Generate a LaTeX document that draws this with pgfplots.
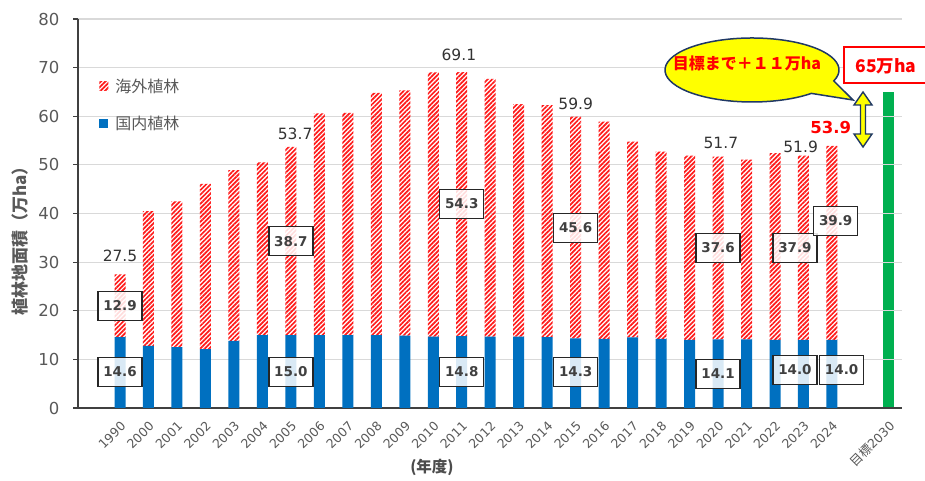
\documentclass[border=0pt]{standalone}
\usepackage{pgfplots}
\usepackage{pgfplotstable}
\pgfplotsset{compat=1.18}
\usetikzlibrary{patterns.meta}
\usepackage{fontspec}
\setmainfont{DejaVu Sans}
\newfontfamily\jp{Noto Sans CJK JP}
\definecolor{dblue}{HTML}{0070C0}
\definecolor{hred}{HTML}{FF1A1A}
\definecolor{tgreen}{HTML}{00B050}
\definecolor{tgray}{HTML}{595959}
\definecolor{navy}{HTML}{1F3864}
\definecolor{cyellow}{HTML}{FFFF00}

\pgfplotstableread{
i dom ovs
0 14.6 12.9
1 12.8 27.7
2 12.5 30.0
3 12.1 34.0
4 13.8 35.1
5 15.0 35.5
6 15.0 38.7
7 15.0 45.6
8 15.0 45.7
9 15.0 49.8
10 14.9 50.4
11 14.7 54.3
12 14.8 54.3
13 14.7 53.0
14 14.7 47.8
15 14.6 47.7
16 14.3 45.6
17 14.2 44.7
18 14.5 40.3
19 14.2 38.5
20 14.0 37.9
21 14.1 37.6
22 14.1 37.0
23 14.0 38.4
24 14.0 37.9
25 14.0 39.9
}\datatable

\tikzset{
  boxlbl/.style={draw=black!85, line width=1.3pt, fill=white, fill opacity=0.85, text opacity=1,
    font=\fontsize{13.5}{14}\selectfont\bfseries, text=black!75,
    minimum width=44pt, minimum height=29pt, inner sep=0pt},
  toplbl/.style={font=\fontsize{15.5}{16}\selectfont, text=black!80, inner sep=0pt},
}
\pgfplotsset{
  frame/.style={at={(78pt,73pt)}, anchor=south west, scale only axis,
    width=824pt, height=389pt, xmin=-1.475, xmax=27.46, ymin=0, ymax=80},
}

\begin{document}
\begin{tikzpicture}
\useasboundingbox (0pt,0pt) rectangle (925pt,481pt);

% target bar
\begin{axis}[frame, hide axis, ybar, bar width=11pt]
\addplot[fill=tgreen, draw=none] coordinates {(27,65)};
\end{axis}

\begin{axis}[frame,
  ybar stacked, bar width=11pt,
  axis x line*=bottom, axis y line*=left,
  axis line style={draw=black!75, line width=1.2pt},
  ymajorgrids, grid style={draw=black!15, line width=1.1pt},
  ytick={0,10,...,80},
  xtick={0,1,...,25,27},
  xticklabels={1990,2000,2001,2002,2003,2004,2005,2006,2007,2008,2009,2010,2011,2012,2013,2014,2015,2016,2017,2018,2019,2020,2021,2022,2023,2024,{{\jp 目標}2030}},
  tick align=outside, major tick length=5pt,
  xtick style={draw=none},
  ytick style={draw=black!75, line width=1.2pt},
  /pgf/number format/assume math mode=true,
  yticklabel style={font=\fontsize{16.5}{18}\selectfont, text=tgray, xshift=-10pt},
  xticklabel style={font=\fontsize{12.5}{13}\selectfont, text=tgray, rotate=45, anchor=east, yshift=-10pt, xshift=-2pt},
  ylabel={\jp\bfseries 植林地面積（万ha）},
  ylabel style={at={(axis description cs:-0.0704,0.44)}, anchor=center, font=\fontsize{17}{18}\selectfont, text=tgray},
  xlabel={\jp\bfseries (年度)},
  xlabel style={at={(axis description cs:0.4296,-0.1517)}, anchor=center, font=\fontsize{15.5}{16}\selectfont, text=black!70},
  reverse legend,
  legend style={at={(0.022,0.857)}, anchor=north west, draw=none, fill=none,
    font=\jp\fontsize{16}{17}\selectfont, text=tgray, row sep=18pt,
    /tikz/every odd column/.append style={column sep=5pt}},
  legend cell align=left,
]
\addplot[fill=dblue, draw=none,
  legend image code/.code={\path[fill=dblue] (0pt,-4.5pt) rectangle (9pt,4.5pt);}]
  table[x=i,y=dom]{\datatable};
\addplot[pattern={Lines[angle=45,distance=3.2pt,line width=1.7pt]}, pattern color=hred, draw=none,
  legend image code/.code={\path[pattern={Lines[angle=45,distance=3.2pt,line width=1.7pt]}, pattern color=hred] (0pt,-4.5pt) rectangle (9pt,4.5pt);}]
  table[x=i,y=ovs]{\datatable};
\legend{国内植林,海外植林}
\end{axis}

% labels overlay
\begin{axis}[frame, hide axis]
% totals
\node[toplbl] at (axis cs:0,31.3) {27.5};
\node[toplbl] at (axis cs:6.15,56.3) {53.7};
\node[toplbl] at (axis cs:11.9,72.6) {69.1};
\node[toplbl] at (axis cs:16,62.5) {59.9};
\node[toplbl] at (axis cs:21.1,54.5) {51.7};
\node[toplbl] at (axis cs:23.9,53.7) {51.9};
\node[toplbl, font=\fontsize{16.5}{17}\selectfont\bfseries, text=red] at (axis cs:24.96,57.6) {53.9};

% overseas boxes
\node[boxlbl] at (axis cs:0,21) {12.9};
\node[boxlbl] at (axis cs:6,34.3) {38.7};
\node[boxlbl] at (axis cs:12,42) {54.3};
\node[boxlbl] at (axis cs:16,37) {45.6};
\node[boxlbl] at (axis cs:21,32.9) {37.6};
\node[boxlbl] at (axis cs:23.7,32.9) {37.9};
\node[boxlbl] at (axis cs:25.13,38.5) {39.9};

% domestic boxes
\node[boxlbl] at (axis cs:0,7.4) {14.6};
\node[boxlbl] at (axis cs:6,7.4) {15.0};
\node[boxlbl] at (axis cs:12,7.4) {14.8};
\node[boxlbl] at (axis cs:16,7.4) {14.3};
\node[boxlbl] at (axis cs:21,7.0) {14.1};
\node[boxlbl] at (axis cs:23.7,7.8) {14.0};
\node[boxlbl] at (axis cs:25.34,7.8) {14.0};
\end{axis}

% callout bubble
\draw[fill=cyellow, draw=navy, line width=1.5pt]
  (752pt,411pt) ++(-20:87pt and 32pt)
  arc[start angle=-20, end angle=313, x radius=87pt, y radius=32pt]
  -- (853pt,381pt) -- cycle;
\node[font=\jp\fontsize{16}{17}\selectfont\bfseries, text=red] at (747pt,418pt) {目標まで＋１１万ha};

% target box
\draw[fill=white, draw=red, line width=1.5pt] (844pt,434pt) rectangle (932pt,398pt);
\node[font=\jp\fontsize{17.5}{18}\selectfont\bfseries, text=red] at (886pt,415pt) {65万ha};

% double arrow
\draw[fill=cyellow, draw=navy, line width=1.4pt]
  (863pt,389pt) -- (872pt,376pt) -- (865.5pt,376pt) -- (865.5pt,347pt) -- (872pt,347pt)
  -- (863pt,334pt) -- (854pt,347pt) -- (860.5pt,347pt) -- (860.5pt,376pt) -- (854pt,376pt) -- cycle;
\end{tikzpicture}
\end{document}
